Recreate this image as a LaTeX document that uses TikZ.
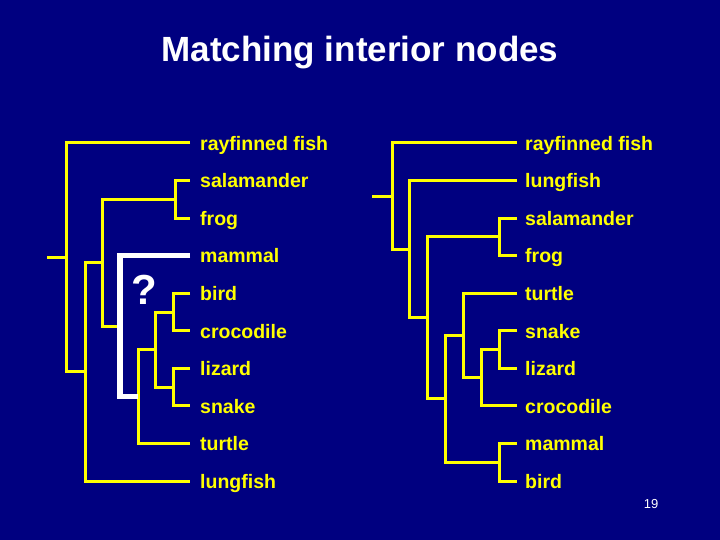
\documentclass[tikz,border=0pt]{standalone}
\usepackage{fontspec}
\setmainfont{Liberation Sans}
\definecolor{bgnavy}{RGB}{0,0,128}
\definecolor{lnyellow}{RGB}{255,255,0}
\begin{document}
\begin{tikzpicture}[x=1pt,y=-1pt,
  branch/.style={draw=lnyellow,line width=3pt},
  hibranch/.style={draw=white,line width=5.5pt},
  leaflabel/.style={anchor=base west,inner sep=0pt,text=lnyellow,font=\fontsize{19.5}{20}\selectfont\bfseries},
  titletext/.style={anchor=base,inner sep=0pt,text=white,font=\fontsize{35}{36}\selectfont\bfseries}]
\fill[bgnavy] (0,0) rectangle (720,540);
\useasboundingbox (0,0) rectangle (720,540);
\node[titletext] (title) at (360,62) {Matching interior nodes};
\node[anchor=base,inner sep=0pt,text=white,font=\fontsize{13}{14}\selectfont] (pnum) at (651,508) {19};
% ---------- left tree ----------
\foreach \n/\y/\t in {1/143/rayfinned fish,2/180.5/salamander,3/218.1/frog,4/255.6/mammal,5/293.2/bird,6/330.8/crocodile,7/368.3/lizard,8/405.9/snake,9/443.4/turtle,10/481/lungfish}{
  \coordinate (L\n) at (190,\y);
  \node[leaflabel] (lt\n) at (200,\y+7.2) {\t};
}
\coordinate (nSF) at (175,199.3);
\coordinate (nBC) at (173,312);
\coordinate (nLS) at (173,387.1);
\coordinate (nF) at (155,349.5);
\coordinate (nE) at (138,396.5);
\coordinate (nD) at (120,326);
\coordinate (nC) at (102,262.6);
\coordinate (nB) at (85,371.8);
\coordinate (nA) at (66,257.4);
\coordinate (nR) at (47,257.4);
\draw[branch] (L2) -| (nSF) |- (L3);
\draw[branch] (L5) -| (nBC) |- (L6);
\draw[branch] (L7) -| (nLS) |- (L8);
\draw[branch] (nBC) -| (nF) |- (nLS);
\draw[branch] (nF) -| (nE) |- (L9);
\draw[branch] (nSF) -| (nC) |- (nD);
\draw[branch] (nC) -| (nB) |- (L10);
\draw[branch] (L1) -| (nA) |- (nB);
\draw[branch] (nR) -- (nA);
\draw[hibranch] (L4) -| (nD) |- (nE);
\node[text=white,inner sep=0pt,font=\fontsize{42}{42}\selectfont\bfseries] (qmark) at (144,290) {?};
% ---------- right tree ----------
\foreach \n/\y/\t in {1/143/rayfinned fish,2/180.5/lungfish,3/218.1/salamander,4/255.6/frog,5/293.2/turtle,6/330.8/snake,7/368.3/lizard,8/405.9/crocodile,9/443.4/mammal,10/481/bird}{
  \coordinate (R\n) at (517,\y);
  \node[leaflabel] (rt\n) at (525,\y+7.2) {\t};
}
\coordinate (mSF) at (499,236.9);
\coordinate (mSL) at (499,349.6);
\coordinate (mMB) at (499,462.2);
\coordinate (mF) at (481,377.7);
\coordinate (mE) at (463,335.5);
\coordinate (mD) at (445,398.8);
\coordinate (mC) at (427,317.9);
\coordinate (mB) at (409,249.2);
\coordinate (mA) at (392,196.1);
\coordinate (mR) at (372,196.1);
\draw[branch] (R3) -| (mSF) |- (R4);
\draw[branch] (R6) -| (mSL) |- (R7);
\draw[branch] (R9) -| (mMB) |- (R10);
\draw[branch] (mSL) -| (mF) |- (R8);
\draw[branch] (R5) -| (mE) |- (mF);
\draw[branch] (mE) -| (mD) |- (mMB);
\draw[branch] (mSF) -| (mC) |- (mD);
\draw[branch] (R2) -| (mB) |- (mC);
\draw[branch] (R1) -| (mA) |- (mB);
\draw[branch] (mR) -- (mA);
\end{tikzpicture}
\end{document}
